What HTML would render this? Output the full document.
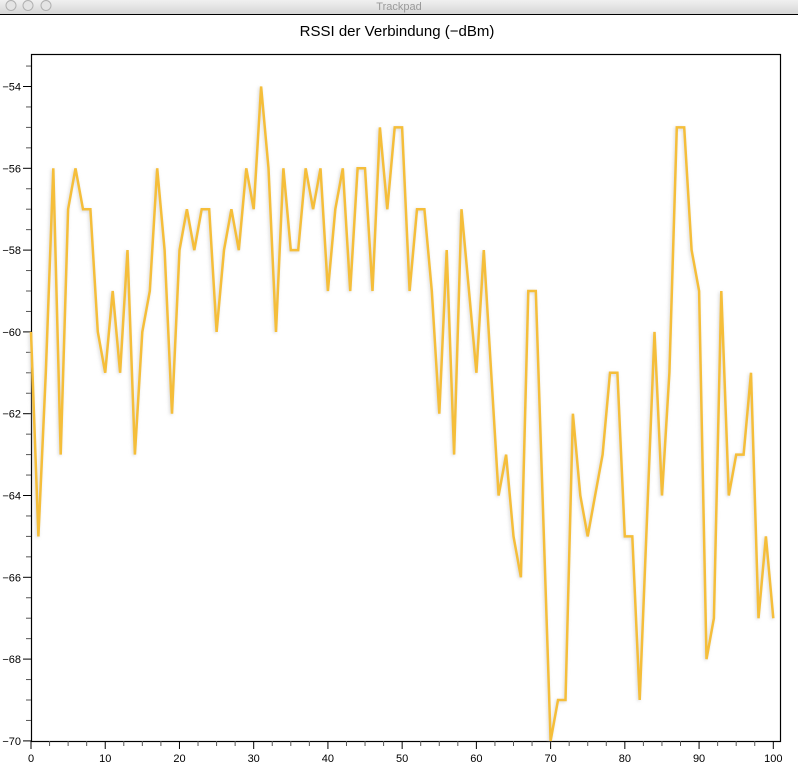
<!DOCTYPE html>
<html><head><meta charset="utf-8"><style>
html,body{margin:0;padding:0;background:#fff;width:798px;height:771px;overflow:hidden;font-family:"Liberation Sans",sans-serif}
</style></head><body>
<svg id="s" width="798" height="771" xmlns="http://www.w3.org/2000/svg">
<defs>
<linearGradient id="tb" x1="0" y1="0" x2="0" y2="1"><stop offset="0" stop-color="#f0f0f0"/><stop offset="1" stop-color="#d6d6d6"/></linearGradient>
<filter id="sh" x="-5%" y="-5%" width="110%" height="110%"><feGaussianBlur stdDeviation="1.5"/></filter>
</defs>
<rect x="0" y="0" width="798" height="14" fill="url(#tb)"/>
<line x1="0" y1="14.5" x2="798" y2="14.5" stroke="#000" stroke-width="1"/>
<circle cx="11" cy="5.5" r="5" fill="#e4e4e4" stroke="#b0b0b0"/>
<circle cx="28" cy="5.5" r="5" fill="#e4e4e4" stroke="#b0b0b0"/>
<circle cx="46" cy="5.5" r="5" fill="#e4e4e4" stroke="#b0b0b0"/>
<text x="399" y="10" font-size="11" fill="#9a9a9a" text-anchor="middle">Trackpad</text>
<text x="397" y="36" font-size="15" fill="#000" text-anchor="middle">RSSI der Verbindung (−dBm)</text>
<rect x="31.5" y="54.5" width="749" height="687" fill="#fff" stroke="#000" stroke-width="1.2"/>
<g id="g"></g>
</svg>
<script>
var d=[-60,-65,-61,-56,-63,-57,-56,-57,-57,-60,-61,-59,-61,-58,-63,-60,-59,-56,-58,-62,-58,-57,-58,-57,-57,-60,-58,-57,-58,-56,-57,-54,-56,-60,-56,-58,-58,-56,-57,-56,-59,-57,-56,-59,-56,-56,-59,-55,-57,-55,-55,-59,-57,-57,-59,-62,-58,-63,-57,-59,-61,-58,-61,-64,-63,-65,-66,-59,-59,-64.5,-70,-69,-69,-62,-64,-65,-64,-63,-61,-61,-65,-65,-69,-64.5,-60,-64,-61,-55,-55,-58,-59,-68,-67,-59,-64,-63,-63,-61,-67,-65,-67];
function X(i){return 31+7.423*i}function Y(v){return 86.5+(-54-v)*40.9}
var g=document.getElementById('g'),h='';
for(var t=0;t<=100;t+=2.5){var x=X(t),maj=t%10==0;h+='<line x1="'+x+'" y1="741" x2="'+x+'" y2="'+(maj?749:746)+'" stroke="'+(maj?'#000':'#555')+'" stroke-width="1"/>';if(maj)h+='<text x="'+x+'" y="762" font-size="11" text-anchor="middle">'+t+'</text>';}
for(var v=-70;v<=-53.5;v+=0.5){var y=Y(v),maj=(v%2==0);h+='<line x1="'+(maj?23:26)+'" y1="'+y+'" x2="31" y2="'+y+'" stroke="'+(maj?'#000':'#555')+'" stroke-width="1"/>';if(maj)h+='<text x="21" y="'+(y+4)+'" font-size="11" text-anchor="end">'+String(v).replace('-','−')+'</text>';}
var p=d.map(function(v,i){return X(i).toFixed(1)+','+Y(v).toFixed(1)}).join(' ');
h+='<polyline points="'+p+'" fill="none" stroke="#bbb" stroke-opacity="0.6" stroke-width="2.5" filter="url(#sh)" transform="translate(-1,1)"/>';
h+='<polyline points="'+p+'" fill="none" stroke="#f5be3a" stroke-width="2.5" stroke-linejoin="miter"/>';
g.innerHTML=h;
</script>
</body></html>
